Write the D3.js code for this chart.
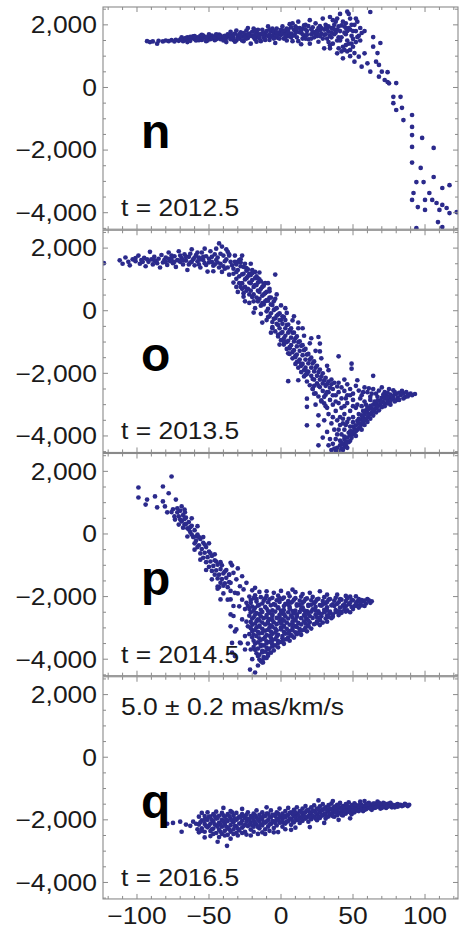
<!DOCTYPE html>
<html><head><meta charset="utf-8">
<script src="https://cdn.jsdelivr.net/npm/d3@7"></script>
<style>body{margin:0;background:#fff}svg{display:block}</style>
</head><body>
<script>
const panelLetters = ["n","o","p","q"];
const panelTimes = ["t = 2012.5","t = 2013.5","t = 2014.5","t = 2016.5"];
const noteText = "5.0 ± 0.2 mas/km/s";
const xTicks = [-100,-50,0,50,100];
const yTicks = [2000,0,-2000,-4000];

const pointsN = [
[-93,1480],[-91,1450],[-89,1470],[-86,1400],[-85,1490],[-82,1470],[-80,1500],[-78,1480],[-76,1510],[-74,1470],[-73,1520],[-71,1490],
[-70,1530],[-69,1600],[-68,1480],[-67,1560],[-66,1520],[-65,1600],[-64,1550],[-63,1490],[-62,1580],[-61,1630],[-60,1540],[-59,1500],[-58,1600],[-57,1560],[-56,1650],[-55,1520],[-54,1580],[-53,1620],[-52,1480],[-51,1560],[-50,1610],[-49,1540],[-48,1660],[-47,1590],[-46,1510],[-45,1630],[-44,1570],[-43,1690],[-42,1540],[-41,1610],[-40,1500],[-39,1650],[-38,1580],[-37,1700],[-36,1620],[-35,1540],[-34,1660],[-33,1590],[-32,1720],[-31,1500],[-30,1640],
[-69,1550],[-66,1580],[-63,1620],[-60,1590],[-57,1510],[-54,1660],[-51,1500],[-48,1570],[-45,1540],[-42,1660],[-39,1560],[-36,1680],[-33,1520],[-30,1580],[-58,1540],[-52,1600],[-46,1600],[-40,1620],[-34,1600],[-38,1450],[-35,1780],[-32,1460],[-31,1820],[-29,1700],
[-29,1560],[-28,1760],[-27,1620],[-26,1480],[-25,1690],[-24,1820],[-23,1580],[-22,1720],[-21,1400],[-20,1650],[-19,1880],[-18,1540],[-17,1760],[-16,1620],[-15,1700],[-14,1480],[-13,1840],[-12,1590],[-11,1750],[-10,1660],[-9,1950],[-8,1520],[-7,1800],[-6,1640],[-5,1720],[-4,1420],[-3,1880],[-2,1580],[-1,1760],[0,1680],
[-28,1640],[-26,1740],[-24,1560],[-22,1640],[-20,1780],[-18,1680],[-16,1840],[-14,1700],[-12,1660],[-10,1800],[-8,1700],[-6,1880],[-4,1600],[-2,1720],[0,1840],[-27,1500],[-23,1900],[-19,1600],[-15,1560],[-11,1520],[-7,1620],[-3,1660],[-1,1560],[-17,1460],[-9,1640],[-5,1800],
[1,1950],[2,1560],[3,1760],[4,1880],[5,1640],[6,2020],[7,1720],[8,1480],[9,1840],[10,1950],[11,1600],[12,2100],[13,1760],[14,1380],[15,1880],[16,1660],[17,2000],[18,1800],[19,1540],[20,2150],[21,1700],[22,1920],[23,1600],[24,2050],[25,1820],[26,1460],[27,1960],[28,1720],[29,2200],[30,1850],
[1,1720],[3,1600],[5,1840],[7,1920],[9,1660],[11,1780],[13,1900],[15,1700],[17,1560],[19,1960],[21,1860],[23,1760],[25,1640],[27,1820],[29,1560],[2,1820],[6,1700],[10,1740],[14,1800],[18,1680],[22,1780],[26,1900],[30,1680],[12,1480],[16,1980],[20,1400],[24,1700],[28,1900],[8,2050],[4,1500],
[31,2000],[32,1560],[33,1780],[34,2250],[35,1900],[36,1400],[37,1700],[38,2100],[39,1850],[40,1600],[41,2350],[42,1980],[43,1300],[44,1750],[45,2050],[46,1500],[47,1900],[48,2200],[49,1650],[50,1800],[51,2000],[52,1450],
[31,1700],[33,1950],[35,1600],[37,2000],[39,1500],[41,1800],[43,2100],[45,1700],[47,1400],[49,2000],[32,1850],[34,1650],[36,1900],[38,1750],[40,1950],[42,1600],[44,1950],[46,1800],[48,1850],[50,1550],[39,2200],[36,2150],[33,1450],[44,1200],[47,2350],[52,1800],[53,2100],[30,1250],[34,1350],[42,1150],[46,1150],[50,1300],[54,1650],[55,1900],[46,2420],[62,2410],[51,1100],[48,1000],
[-65,1450],[-55,1680],[-45,1700],[-35,1660],[-25,1600],[-15,1620],[-5,1560],[5,1760],[15,1560],[25,1740],[35,1760],[45,1900],[41,1500],[37,1850],[31,1900],[27,1640],[21,1560],[17,1860],[11,1900],[7,1600],[3,1680],[-3,1760],[-8,1850],[-13,1720],[-18,1820],[-23,1700],[-33,1700],[-43,1620],[-50,1700],[-60,1640],[52,2200],[55,1500],[58,1800],[49,1400],[45,1350],[40,1250],
[34,1250],[39,1090],[43,930],[48,1200],[51,825],[54,983],[56,664],[58,1090],[60,772],[62,505],[64,1302],[66,825],[70,505],[72,238],[75,133],[68,344],
[53,1610],[56,1740],[64,1610],[69,1420],[67,1100],[68,720],[74,490],[74,175],[80,140],[78,-300],[83,-300],[78,-500],[80,-720],[84,-650],[85,-1040],[91,-880],[91,-1260],[91,-1520],[98,-1610],[91,-1900],[106,-1930],[91,-2400],[97,-2570],[94,-3020],[99,-3020],[92,-3370],[91,-3590],[103,-3370],[105,-3590],[112,-3210],[117,-3120],[95,-3820],[100,-3910],[108,-3690],[110,-3910],[115,-3850],[112,-3750],[117,-4010],[122,-3980],[109,-4300],[112,-4460],[94,-4490],[100,-3590],[106,-2860]
];

const pointsO = [
[-123,1520],[-112,1610],[-110,1500],[-108,1700],[-106,1560],[-105,1450],[-103,1640],[-101,1580],[-99,1760],[-98,1500],[-97,1620],[-95,1690],[-94,1420],[-92,1560],[-91,1880],[-90,1640],[-89,1480],[-88,1720],[-87,1590],[-85,1660],[-84,1380],[-83,1780],[-82,1540],[-81,1620],[-80,1700],[-79,1460],[-78,1860],[-77,1580],[-76,1650],[-75,1520],[-74,1740],[-73,1400],[-72,1620],[-71,1900],[-70,1560],[-69,1680],[-68,1480],[-67,1800],[-66,1600],[-65,1300],[-64,1720],[-63,1540],[-62,1960],[-61,1640],[-60,1450],[-59,1780],[-58,1580],[-57,1700],[-56,1380],[-55,1860],[-54,1620],[-53,1520],[-52,1740],[-51,1250],[-50,1660],[-49,1900],[-48,1560],[-47,1440],[-46,1800],[-45,1620],[-44,1700],[-43,2150],[-42,1500],[-41,2050],[-40,1760],[-39,1340],[-38,1640],[-37,1880],[-36,1150],[-35,1560],
[-96,1560],[-93,1640],[-86,1520],[-80,1560],[-76,1760],[-74,1560],[-70,1760],[-68,1620],[-66,1720],[-64,1480],[-62,1560],[-60,1700],[-58,1860],[-56,1640],[-54,1720],[-52,1460],[-50,1540],[-48,1720],[-46,1480],[-44,1540],[-42,1820],[-40,1420],[-38,1960],[-36,1760],[-45,1980],[-53,1980],[-47,1260],[-41,1240],[-37,1380],[-39,1580],[-43,1380],[-57,1480],[-63,1820],[-71,1600],[-78,1660],[-88,1600],[-101,1680],
[-34,1450],[-33,1180],[-32,1560],[-31,1020],[-30,1300],[-29,1100],[-28,1420],[-27,880],[-26,1180],[-25,760],[-24,1040],[-23,1320],[-22,900],[-21,640],[-20,980],[-19,520],[-18,820],[-17,1100],[-16,640],[-15,380],[-14,700],[-13,480],[-12,200],[-11,560],[-10,340],[-9,60],[-8,420],[-7,-80],[-6,180],[-5,-260],[-4,60],[-3,-420],[-2,-120],[-1,-560],[0,-300],[1,-680],[2,-200],[3,-800],[4,-460],[5,-960],[6,-620],[7,-1100],[8,-700],[9,-1260],[10,-880],[11,-1400],[12,-1000],[13,-1560],[14,-1120],[15,-1700],[16,-1260],[17,-1820],[18,-1400],[19,-1950],[20,-1560],[21,-2080],[22,-1680],[23,-2200],[24,-1820],[25,-2320],[26,-1960],[27,-2440],[28,-2100],[29,-2560],[30,-2220],[31,-2680],[32,-2340],[33,-2600],[34,-2460],
[-33,1340],[-31,1240],[-29,880],[-27,1160],[-25,1000],[-23,700],[-21,880],[-19,760],[-17,420],[-15,600],[-13,760],[-11,300],[-9,320],[-7,200],[-5,20],[-3,-160],[-1,-300],[1,-420],[3,-560],[5,-700],[7,-860],[9,-980],[11,-1140],[13,-1280],[15,-1420],[17,-1560],[19,-1680],[21,-1820],[23,-1940],[25,-2080],[27,-2200],[29,-2320],[-30,1560],[-28,760],[-26,1400],[-24,640],[-22,1180],[-20,440],[-18,1040],[-16,300],[-14,940],[-12,520],[-10,-20],[-8,-180],[-6,-360],[-4,-240],[-2,-460],[0,-720],[2,-880],[4,-1000],[6,-1160],[8,-1320],[10,-1480],[12,-1620],[14,-1760],[16,-1900],[18,-2020],[-36,1800],[-32,1760],[-28,1640],[-25,1500],[-23,1100],[-20,1300],[-16,900],[-12,800],
[-33,900],[-31,1480],[-29,1620],[-27,700],[-26,560],[-24,1280],[-22,520],[-21,1140],[-19,300],[-18,1240],[-17,820],[-15,1000],[-14,160],[-13,240],[-11,880],[-10,600],[-9,-200],[-8,700],[-7,420],[-6,-560],[-5,300],[-4,-660],[-3,80],[-2,-820],[-1,-80],[0,-940],[1,-180],[2,-1080],[3,-300],[4,-1220],[5,-440],[6,-1380],[7,-560],[8,-1520],[9,-700],[10,-1700],[11,-820],[12,-1820],[13,-980],[14,-1960],[15,-1100],[16,-2100],[17,-1220],[18,-2260],[19,-1380],[20,-2380],[21,-1500],[22,-2500],[23,-1620],[24,-2640],[25,-1760],[26,-2740],[27,-1880],[28,-2860],[29,-2000],[30,-2960],[31,-2140],[32,-3100],[33,-2260],[35,-2200],[37,-2300],[39,-2420],[36,-2700],
[-30,600],[-26,450],[-22,250],[-18,80],[-14,-100],[-10,-300],[-6,-520],[-2,-760],[2,-980],[6,-1200],[10,-1440],[14,-1700],[18,-1940],[22,-2180],[26,-2400],
[-28,1540],[-24,1360],[-20,1200],[-16,1030],[-12,860],[-8,620],[-4,380],[0,170],[4,-70],[8,-310],[12,-560],[16,-800],[20,-1040],[24,-1280],[28,-1520],[32,-1760],
[-31,760],[-25,300],[-19,-60],[-13,-380],[-7,-700],[-1,-1080],[5,-1360],[11,-1640],[17,-2050],[23,-2400],[-27,1760],[-21,1500],[-15,1220],[-9,880],[-3,520],[3,80],[9,-180],[15,-560],[21,-880],[27,-1300],[33,-1900],
[-4,1155],[12,-380],[26,-840],[27,-1050],[40,-1455],[49,-1690],[49,-1850],[5,-2250],[12,-2220],[64,-2080],
[40,-4480],[42,-4400],[41,-4300],[43,-4250],[44,-4350],[45,-4180],[44,-4100],[46,-4050],[47,-4200],[48,-3980],[47,-3900],[49,-3850],[50,-3950],[51,-3780],[50,-3700],[52,-3660],[53,-3800],[54,-3600],[53,-3520],[55,-3480],[56,-3620],[57,-3420],[56,-3340],[58,-3300],[59,-3450],[60,-3260],[59,-3180],[61,-3150],[62,-3300],[63,-3120],[62,-3040],[64,-3000],[65,-3150],[66,-2980],[65,-2900],[67,-2880],[68,-3020],[69,-2860],[70,-2780],[71,-2920],[72,-2800],[73,-2720],[74,-2860],[75,-2760],[76,-2680],[77,-2820],[78,-2720],[80,-2660],[81,-2780],[83,-2700],[85,-2640],[86,-2760],[88,-2680],[90,-2650],[84,-2560],[79,-2600],
[43,-4450],[45,-4300],[46,-4380],[48,-4150],[49,-4060],[51,-3900],[52,-4000],[54,-3760],[55,-3700],[57,-3560],[58,-3500],[60,-3400],[61,-3340],[63,-3260],[64,-3200],[66,-3100],[67,-3060],[69,-2980],[70,-2920],[72,-2960],[74,-2780],[76,-2880],[78,-2800],[80,-2860],[82,-2620],[87,-2600],
[36,-2500],[38,-2700],[40,-2600],[42,-2800],[44,-2560],[46,-2700],[48,-2500],[50,-2650],[52,-2400],[54,-2550],[56,-2700],[58,-2450],[60,-2600],[62,-2750],[64,-2500],[66,-2650],[68,-2550],[70,-2450],[72,-2600],[75,-2500],[78,-2540],[53,-2220],
[34,-2850],[36,-3000],[38,-3200],[40,-2950],[42,-3100],[44,-3300],[46,-2950],[48,-3200],[50,-3400],[52,-3100],[54,-3300],[56,-3050],[58,-2900],[60,-3100],[62,-2850],[45,-2800],[41,-3400],[43,-3600],[46,-3550],[48,-3700],[39,-3500],[37,-3800],[40,-3800],[42,-3950],[44,-3800],[38,-4100],[41,-4150],[36,-4250],[35,-3600],[33,-3300],[31,-3050],[30,-2750],[32,-2600],[28,-2900],
[39,-4380],[42,-4200],[44,-4020],[46,-4200],[48,-3850],[50,-3560],[52,-3850],[54,-3450],[56,-3800],[58,-3650],[60,-3550],[62,-3450],[64,-3350],[66,-3250],[68,-3180],[70,-3080],[72,-3050],[74,-2960],[76,-3000],[79,-2900],[82,-2850],[85,-2800],[88,-2740],[91,-2700],[93,-2660],[50,-3050],[47,-3450],[45,-3650],[43,-3450],[41,-3650],[39,-3950],[37,-4400],[34,-4100],[36,-3400],[38,-2900],[44,-3050],[50,-2850],[55,-2800],[57,-3200],[53,-3000],[59,-3000],[63,-2650],[67,-2750],[71,-2680],[74,-2620],[48,-2700],[42,-2450],[46,-2350],[57,-2600],[61,-2480],[31,-2400],[35,-2350],[40,-2300],[44,-2200],
[18,-2810],[18,-3070],[26,-3340],[26,-3660],[18,-3660],[32,-3870],[26,-4300],[33,-4300],[38,-4510],[22,-2500],[24,-3000],[30,-3500],[29,-4050],[35,-4450],[23,-2650]
];

const pointsP = [
[-99,1484],[-82,1516],[-76,1835],[-99,1165],[-93,1100],[-94,940],[-87.5,1200],[-86,850],[-82,1040],[-80.6,880],[-79,690],[-75,790],[-72,690],[-69,880],[-66.7,690],[-73.6,460],[-69,400],
[-71,560],[-70,740],[-69,420],[-68,600],[-67,300],[-66,520],[-65,180],[-64,380],[-63,60],[-62,260],[-61,-100],[-60,120],[-59,-220],[-58,-20],[-57,-360],[-56,-160],[-55,-480],[-54,-280],[-53,-600],[-52,-420],[-51,-740],[-50,-560],[-49,-880],[-48,-700],[-47,-1020],[-46,-840],[-45,-1160],[-44,-980],[-43,-1300],[-42,-1120],[-41,-1440],[-40,-1260],[-39,-1580],[-38,-1400],[-37,-1700],[-36,-1540],[-35,-1820],
[-70,460],[-67,480],[-64,140],[-62,-20],[-60,-300],[-58,-420],[-56,-620],[-54,-760],[-52,-900],[-50,-1050],[-48,-1180],[-46,-1300],[-44,-1420],[-42,-1560],[-40,-1650],[-66,320],[-63,220],[-59,-80],[-57,-100],[-53,-340],[-49,-620],[-45,-880],[-41,-1000],[-39,-1200],[-43,-1700],[-42,-2090],[-35,-2570],[-35,-2950],[-44,-1680],[-74,560],[-72,820],[-68,200],
[-78,1300],[-76,700],[-73,1100],[-71,300],[-67,780],[-65,-80],[-62,500],[-60,-500],[-58,250],[-56,-820],[-54,-100],[-52,-1150],[-50,-300],[-48,-1450],[-46,-650],[-44,-1750],[-42,-900],[-40,-1900],[-38,-1150],[-37,-2100],[-36,-1300],[-34,-1000],
[-35,-920],[-33,-1240],[-31,-1450],[-35,-1560],[-28.5,-1670],[-32,-1880],[-26,-1770],[-35,-2090],[-29,-2310],[-25,-2400],[-33,-2620],[-27,-2730],[-23,-2950],[-31,-3050],[-25,-3260],[-34,-3480],[-28,-3490],[-21,-3690],[-32,-3900],[-34,-3790],[-28.5,-3470],[-25,-3690],[-32,-3115],[-21.5,-4330],[-18,-4425],[-12.5,-4105],[-30,-1100],[-27,-1350],[-24,-1560],[-36,-1300],[-30,-1900],[-27,-2100],[-33,-2300],[-24,-2200],
[-20,-1800],[-15,-1850],[-10,-1830],[-5,-1880],[0,-1820],[5,-1900],[10,-1860],[15,-1920],[20,-1880],[27,-1830],[32,-1940],[39,-1940],[45,-1980],[52,-1990],[-18,-1720],[8,-1780],[57,-2150],[63,-2150],[60,-2080],
[-22,-2000],[-18,-1960],[-14,-2020],[-10,-1980],[-6,-2040],[-2,-1970],[2,-2030],[6,-1990],[10,-2050],[14,-2000],[18,-2060],[22,-2010],[26,-2070],[30,-2020],[34,-2080],[38,-2040],[42,-2100],[46,-2060],[50,-2120],[54,-2080],[58,-2130],[48,-2000],
[-21,-2110],[-17,-2080],[-12,-2130],[-8,-2090],[-3,-2120],[1,-2070],[5,-2140],[9,-2100],[13,-2130],[17,-2080],[21,-2120],[25,-2090],[29,-2140],[33,-2100],[37,-2130],[41,-2080],[45,-2140],[49,-2100],[53,-2150],[56,-2110],
[-21,-2200],[-17,-2160],[-13,-2220],[-9,-2180],[-5,-2240],[-1,-2170],[3,-2230],[7,-2190],[11,-2250],[15,-2200],[19,-2260],[23,-2210],[27,-2270],[31,-2220],[35,-2280],[39,-2230],[43,-2290],[47,-2240],[51,-2300],[55,-2260],[59,-2220],[62,-2200],
[-20,-2320],[-16,-2290],[-11,-2330],[-7,-2280],[-2,-2340],[2,-2300],[6,-2330],[11,-2290],[15,-2340],[19,-2300],[24,-2330],[28,-2290],[32,-2340],[37,-2300],[41,-2350],[45,-2310],[49,-2330],[53,-2300],
[-22,-2400],[-18,-2360],[-14,-2420],[-10,-2380],[-6,-2440],[-2,-2370],[2,-2430],[6,-2390],[10,-2450],[14,-2400],[18,-2460],[22,-2410],[26,-2470],[30,-2420],[34,-2480],[38,-2430],[42,-2490],[46,-2440],[50,-2400],[48,-2500],[54,-2350],[56,-2280],
[-21,-2500],[-17,-2530],[-13,-2490],[-8,-2520],[-4,-2480],[0,-2530],[5,-2500],[9,-2540],[13,-2490],[17,-2520],[21,-2480],[26,-2530],[30,-2500],[34,-2540],[38,-2490],[42,-2520],[45,-2480],
[-22,-2610],[-18,-2580],[-14,-2630],[-10,-2590],[-6,-2620],[-1,-2580],[3,-2630],[7,-2600],[11,-2640],[16,-2590],[20,-2620],[24,-2580],[28,-2630],[32,-2600],[36,-2640],[40,-2590],
[-20,-2700],[-16,-2730],[-12,-2690],[-8,-2720],[-3,-2680],[1,-2730],[5,-2700],[10,-2740],[14,-2690],[18,-2720],[22,-2680],[27,-2730],[31,-2700],[35,-2690],
[-21,-2810],[-17,-2780],[-13,-2830],[-9,-2790],[-5,-2820],[-1,-2780],[4,-2830],[8,-2800],[12,-2840],[16,-2790],[20,-2820],[25,-2790],[29,-2830],[32,-2800],
[-20,-2900],[-15,-2930],[-11,-2890],[-7,-2920],[-3,-2880],[2,-2930],[6,-2900],[10,-2940],[14,-2890],[19,-2920],[23,-2880],[27,-2910],
[-21,-3010],[-17,-2980],[-13,-3030],[-8,-2990],[-4,-3020],[0,-2980],[4,-3030],[8,-3000],[13,-3040],[17,-2990],[21,-3020],
[-20,-3100],[-16,-3130],[-11,-3090],[-7,-3120],[-3,-3080],[2,-3130],[6,-3100],[10,-3140],[14,-3090],[18,-3110],
[-19,-3210],[-15,-3180],[-10,-3230],[-6,-3190],[-2,-3220],[3,-3180],[7,-3230],[11,-3200],[14,-3220],
[-20,-3300],[-15,-3330],[-11,-3290],[-7,-3320],[-3,-3280],[1,-3330],[5,-3300],[9,-3310],
[-19,-3410],[-14,-3380],[-10,-3430],[-6,-3390],[-2,-3420],[2,-3380],[6,-3410],
[-18,-3500],[-14,-3530],[-10,-3490],[-6,-3520],[-2,-3480],[2,-3510],
[-19,-3610],[-14,-3580],[-10,-3630],[-6,-3590],[-2,-3620],
[-18,-3700],[-13,-3730],[-9,-3690],[-5,-3720],
[-17,-3810],[-13,-3780],[-9,-3830],[-7,-3790],
[-16,-3900],[-12,-3930],[-9,-3890],
[-15,-4010],[-12,-3980],[-13,-4100],
[-19,-2050],[-11,-2060],[-1,-2050],[8,-2160],[16,-2150],[24,-2160],[32,-2170],[40,-2180],[48,-2200],[55,-2180],[61,-2120],[-15,-2260],[-4,-2270],[5,-2260],[13,-2270],[21,-2260],[29,-2250],[36,-2250],[44,-2250],[52,-2230],[58,-2300],[-19,-2450],[-9,-2460],[0,-2450],[8,-2460],[16,-2440],[24,-2450],[32,-2450],[40,-2470],[44,-2400],[-15,-2560],[-6,-2570],[2,-2560],[11,-2570],[19,-2550],[28,-2560],[36,-2570],[41,-2530],[-19,-2660],[-10,-2660],[-1,-2650],[8,-2670],[17,-2650],[25,-2660],[33,-2650],[-15,-2760],[-6,-2750],[2,-2770],[10,-2760],[19,-2770],[27,-2760],[-18,-2860],[-9,-2860],[0,-2850],[8,-2870],[17,-2860],[25,-2850],[-15,-2960],[-6,-2960],[2,-2960],[11,-2970],[19,-2950],[-18,-3060],[-9,-3060],[0,-3050],[8,-3070],[16,-3060],[-13,-3160],[-4,-3150],[5,-3160],[12,-3150],[-17,-3260],[-8,-3250],[1,-3260],[8,-3270],[-12,-3350],[-4,-3360],[4,-3360],[-16,-3460],[-8,-3450],[0,-3450],[-12,-3560],[-4,-3560],[-16,-3660],[-8,-3660],[-11,-3760],[-15,-3860],[-10,-3960],[-14,-4060],[-16,-4200],[-20,-4000],[-23,-3500],[-24,-2800],[-23,-2300],[-22,-3200]
];

const pointsQ = [
[-79,-2125],[-75,-2100],[-70,-2060],[-69,-2380],[-66,-2150],[-63,-2190],[-61,-2060],[-59,-2125],[-58,-2300],
[-57,-1900],[-57,-2150],[-57,-2400],[-55,-2020],[-55,-2270],[-55,-1780],[-53,-1880],[-53,-2130],[-53,-2380],[-53,-2560],[-51,-2000],[-51,-2240],[-51,-1760],[-49,-1900],[-49,-2120],[-49,-2360],[-49,-2520],[-47,-1820],[-47,-2050],[-47,-2280],[-45,-1960],[-45,-2180],[-45,-2420],[-45,-1740],[-44,-2700],[-43,-1870],[-43,-2090],[-43,-2320],[-41,-1780],[-41,-2000],[-41,-2220],[-41,-2450],[-39,-1900],[-39,-2130],[-39,-2350],[-37.5,-2830],[-37,-1820],[-37,-2040],[-37,-2260],[-37,-2480],[-35,-1950],[-35,-2170],[-35,-2380],[-35,-1720],
[-33,-1860],[-33,-2080],[-33,-2300],[-31,-1780],[-31,-2000],[-31,-2210],[-31,-2420],[-29,-1900],[-29,-2120],[-29,-2340],[-27,-1820],[-27,-2030],[-27,-2250],[-27,-1650],[-25,-1940],[-25,-2160],[-25,-2380],[-23,-1760],[-23,-1980],[-23,-2200],[-21,-1880],[-21,-2090],[-21,-2310],[-21,-2500],[-19,-1800],[-19,-2010],[-19,-2220],[-17,-1920],[-17,-2140],[-17,-1700],[-15,-1840],[-15,-2050],[-15,-2270],[-13,-1760],[-13,-1970],[-13,-2180],[-13,-2400],[-11,-1880],[-11,-2090],[-11,-2300],[-9,-1800],[-9,-2010],[-9,-2220],[-7,-1700],[-7,-1920],[-7,-2130],[-5,-1840],[-5,-2050],[-5,-2260],[-3,-1760],[-3,-1970],[-3,-2180],[-1,-1880],[-1,-2090],[-1,-1640],
[1,-1800],[1,-2000],[1,-2220],[3,-1720],[3,-1920],[3,-2120],[5,-1840],[5,-2040],[5,-1620],[7,-1760],[7,-1960],[7,-2160],[9,-1680],[9,-1880],[9,-2080],[11,-1800],[11,-2000],[11,-1600],[13,-1720],[13,-1920],[13,-2100],[15,-1640],[15,-1840],[15,-2030],[17,-1760],[17,-1960],[17,-1560],[19,-1680],[19,-1880],[19,-2060],[20,-2230],[21,-1600],[21,-1800],[21,-1980],[23,-1720],[23,-1900],[23,-1540],[25,-1640],[25,-1830],[25,-2010],[26,-1380],[27,-1570],[27,-1760],[27,-1940],[29,-1680],[29,-1860],[29,-1500],[31,-1600],[31,-1790],[31,-1960],[33,-1530],[33,-1720],[33,-1890],[35,-1650],[35,-1820],[35,-1480],
[37,-1580],[37,-1750],[37,-1900],[39,-1520],[39,-1690],[39,-1850],[41,-1620],[41,-1780],[41,-1460],[43,-1560],[43,-1720],[43,-1860],[45,-1500],[45,-1660],[45,-1800],[47,-1590],[47,-1740],[47,-1440],[49,-1530],[49,-1680],[49,-1820],[51,-1470],[51,-1620],[51,-1760],[53,-1560],[53,-1700],[55,-1500],[55,-1640],[55,-1420],[57,-1580],[57,-1720],[59,-1520],[59,-1660],[61,-1460],[61,-1600],[63,-1540],[63,-1680],[65,-1480],[65,-1620],[67,-1560],[67,-1420],[69,-1500],[69,-1640],[71,-1580],[71,-1460],[73,-1520],[73,-1620],[75,-1560],[75,-1480],[77,-1600],[77,-1510],[79,-1540],[81,-1580],[81,-1500],[84,-1560],[86,-1490],[89,-1520],[88,-1560],
[-56,-2080],[-52,-1980],[-50,-2180],[-48,-2000],[-46,-2140],[-44,-1940],[-42,-2140],[-40,-2060],[-38,-2220],[-36,-1880],[-34,-2030],[-32,-2200],[-30,-1950],[-28,-2110],[-26,-1880],[-24,-2060],[-22,-2140],[-20,-1930],[-18,-2100],[-16,-1990],[-14,-2150],[-12,-1870],[-10,-2050],[-8,-1910],[-6,-2040],[-4,-1880],[-2,-2000],[0,-1920],[2,-2100],[4,-1860],[6,-1960],[8,-1820],[10,-1940],[12,-1860],[14,-1960],[16,-1780],[18,-1920],[20,-1760],[22,-1880],[24,-1760],[26,-1900],[28,-1700],[30,-1820],[32,-1680],[34,-1800],[36,-1700],[38,-1620],[40,-1760],[42,-1660],[44,-1620],[46,-1700],[48,-1640],[50,-1600],[52,-1660],[54,-1560],[56,-1620],[58,-1560],[60,-1620],[62,-1560],[64,-1560],[66,-1520],[68,-1570],[70,-1540],[72,-1560],[74,-1500],[76,-1540],[78,-1560],[80,-1520],[83,-1520],[85,-1540],[87,-1520],
[-55,-2350],[-52,-2200],[-50,-1900],[-48,-2300],[-46,-1880],[-44,-2220],[-42,-2380],[-40,-1860],[-38,-2000],[-36,-2300],[-34,-1760],[-32,-1960],[-30,-2280],[-28,-1920],[-26,-2200],[-24,-1840],[-22,-2000],[-20,-2180],[-18,-1860],[-16,-2230],[-14,-1920],[-12,-2080],[-10,-1800],[-8,-2150],[-6,-1840],[-4,-2100],[-2,-1800],[0,-2080],[2,-1880],[4,-2060],[6,-1780],[8,-2040],[10,-1760],[12,-2000],[14,-1760],[16,-1900],[18,-1700],[20,-1900],[22,-1700],[24,-1960],[26,-1680],[28,-1860],[30,-1640],[32,-1900],[34,-1640],[36,-1880],[38,-1740],[40,-1560],[42,-1840],[44,-1720],[46,-1560],[48,-1760],[50,-1700],[52,-1520],[54,-1720],[56,-1520],[58,-1680],[60,-1500],[62,-1640],[64,-1480],[66,-1600],[68,-1460],[70,-1620],[72,-1480],[74,-1580],[76,-1460],[79,-1600],[82,-1540],[-53,-2000],[-47,-2450],[-43,-2550],[-39,-2500],[-35,-2600],[-33,-2450],[-27,-2420],[-19,-2380],[-11,-2450],[-5,-2400],[3,-2300],[7,-2320],
[-2,-2390],[-8,-2350],[10,-2250],[30,-2100],[40,-2000],[48,-1950],[-24,-2470],[-30,-2500],[-16,-2450],[36,-1400],[58,-1400],[-10,-1600],[-40,-1620]
];

const panels = [pointsN, pointsO, pointsP, pointsQ];

const W = 459, H = 930;
const FONT = "'Liberation Sans', Arial, Helvetica, sans-serif";
const TXT = "#1a1a1a", FRAME = "#8a8a8a", DOT = "#2b2a8c";
const STRETCH = 1.15;
const fmt = v => d3.format(",")(v).replace("-", "\u2212");

const svg = d3.select("body").append("svg").attr("width", W).attr("height", H);
svg.append("rect").attr("width", W).attr("height", H).attr("fill", "#fff");

const left = 103, right = 458;
const x = d3.scaleLinear().domain([-123.6, 122.9]).range([left, right]);
const top0 = 7, pitch = 223.25, ph = 222.2;
const xMinor = d3.range(-120, 121, 10).filter(v => v % 50 !== 0);
const yMinor = d3.range(-4500, 2501, 500).filter(v => v % 2000 !== 0);

panels.forEach((pts, i) => {
  const top = top0 + i * pitch;
  const y = d3.scaleLinear().domain([-4560, 2570]).range([top + pitch, top]);
  const g = svg.append("g");
  const cid = "clip" + i;
  svg.append("clipPath").attr("id", cid).append("rect")
    .attr("x", left).attr("y", top).attr("width", right - left).attr("height", ph);

  g.append("g").attr("clip-path", `url(#${cid})`)
    .selectAll("circle").data(pts).join("circle")
    .attr("cx", d => x(d[0])).attr("cy", d => y(d[1]))
    .attr("r", 2.35).attr("fill", DOT);

  g.append("rect").attr("x", left).attr("y", top).attr("width", right - left).attr("height", ph)
    .attr("fill", "none").attr("stroke", FRAME).attr("stroke-width", 1.1);

  const tk = g.append("g").attr("stroke", FRAME).attr("stroke-width", 1);
  const yt = yTicks.map(v => ({v, len: 5})).concat(yMinor.map(v => ({v, len: 3})));
  tk.selectAll(".yl").data(yt).join("line").attr("class", "yl")
    .attr("x1", left).attr("x2", d => left + d.len)
    .attr("y1", d => y(d.v)).attr("y2", d => y(d.v));
  tk.selectAll(".yr").data(yt).join("line").attr("class", "yr")
    .attr("x1", right).attr("x2", d => right - d.len)
    .attr("y1", d => y(d.v)).attr("y2", d => y(d.v));
  const xt = xTicks.map(v => ({v, len: 5})).concat(xMinor.map(v => ({v, len: 3})));
  tk.selectAll(".xt").data(xt).join("line").attr("class", "xt")
    .attr("x1", d => x(d.v)).attr("x2", d => x(d.v))
    .attr("y1", top).attr("y2", d => top + d.len);
  tk.selectAll(".xb").data(xt).join("line").attr("class", "xb")
    .attr("x1", d => x(d.v)).attr("x2", d => x(d.v))
    .attr("y1", top + ph).attr("y2", d => top + ph - d.len);

  g.selectAll(".ylab").data(yTicks).join("text").attr("class", "ylab")
    .attr("transform", d => `translate(${left - 6},${y(d)}) scale(${STRETCH},1)`)
    .attr("dy", "0.36em").attr("text-anchor", "end")
    .attr("font-family", FONT).attr("font-size", 23).attr("fill", TXT)
    .text(fmt);

  g.append("text").attr("x", 141).attr("y", top + 141)
    .attr("font-family", FONT).attr("font-size", 48).attr("font-weight", "bold").attr("fill", "#000")
    .text(panelLetters[i]);

  g.append("text").attr("transform", `translate(121,${top + 209}) scale(${STRETCH},1)`)
    .attr("font-family", FONT).attr("font-size", 23).attr("fill", TXT)
    .text(panelTimes[i]);

  if (i === 3) {
    g.append("text").attr("transform", `translate(121,${top + 38}) scale(${STRETCH},1)`)
      .attr("font-family", FONT).attr("font-size", 23).attr("fill", TXT)
      .text(noteText);
    g.selectAll(".xlab").data(xTicks).join("text").attr("class", "xlab")
      .attr("transform", d => `translate(${x(d)},${top + ph + 25}) scale(${STRETCH},1)`)
      .attr("text-anchor", "middle")
      .attr("font-family", FONT).attr("font-size", 23).attr("fill", TXT)
      .text(fmt);
  }
});
</script>
</body></html>
